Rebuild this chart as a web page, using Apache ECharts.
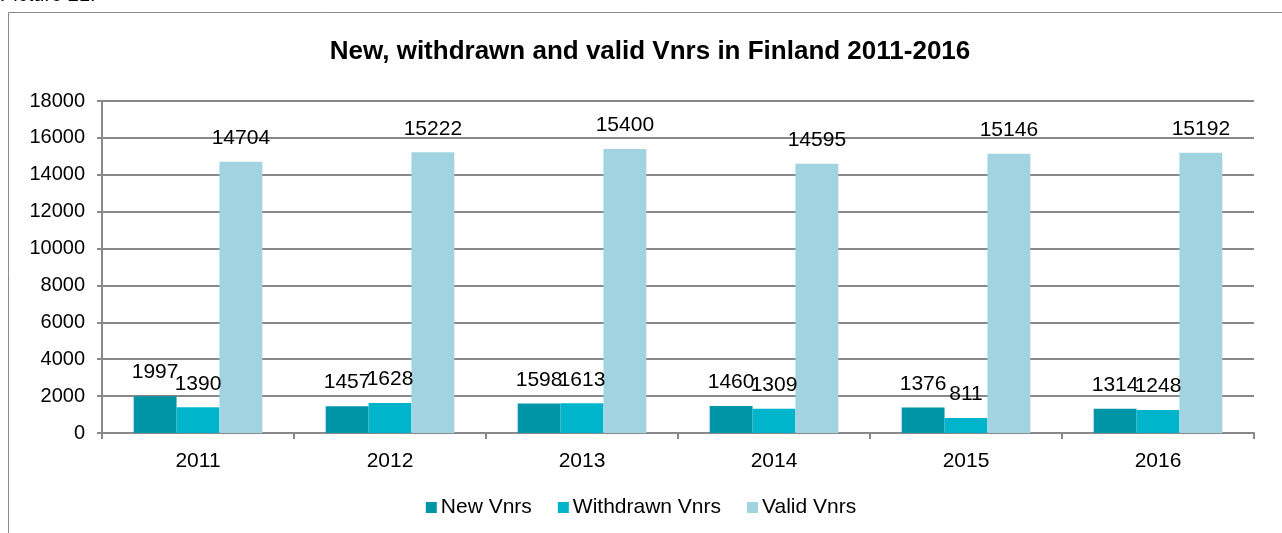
<!DOCTYPE html>
<html>
<head>
<meta charset="utf-8">
<script src="https://cdn.jsdelivr.net/npm/echarts@6/dist/echarts.min.js"></script>
<style>
  html, body { margin: 0; padding: 0; background: #fff; }
  #chart { width: 1282px; height: 533px; }
</style>
</head>
<body>
<div id="chart"></div>
<script>
  // data
  var years = ['2011', '2012', '2013', '2014', '2015', '2016'];
  var newVnrs = [1997, 1457, 1598, 1460, 1376, 1314];
  var withdrawnVnrs = [1390, 1628, 1613, 1309, 811, 1248];
  var validVnrs = [14704, 15222, 15400, 14595, 15146, 15192];

  var colors = ['#0094A7', '#00B4CB', '#A1D3E1'];
  var font = 'Liberation Sans, Arial, sans-serif';

  var myChart = echarts.init(document.getElementById('chart'));

  function labelStyle() {
    return {
      show: true,
      position: 'top',
      distance: 13,
      color: '#000',
      fontFamily: font,
      fontSize: 21
    };
  }

  var option = {
    animation: false,
    color: colors,
    title: {
      text: 'New, withdrawn and valid Vnrs in Finland 2011-2016',
      left: 645,
      top: 34,
      textAlign: 'center',
      textStyle: {
        fontFamily: 'Liberation Sans Narrow, Arial Narrow, Liberation Sans, sans-serif',
        fontWeight: 'bold',
        fontSize: 26,
        color: '#000'
      }
    },
    graphic: [
      {
        type: 'rect',
        shape: { x: 8.5, y: 12.5, width: 1300, height: 600 },
        style: { fill: 'none', stroke: '#888', lineWidth: 1 }
      },
      {
        type: 'text',
        left: 0,
        top: -15,
        style: { text: 'Picture 21:', fontFamily: font, fontSize: 20, fill: '#000' }
      }
    ],
    legend: {
      data: ['New Vnrs', 'Withdrawn Vnrs', 'Valid Vnrs'],
      bottom: 10,
      left: 'center',
      itemWidth: 11,
      itemHeight: 11,
      itemGap: 26,
      icon: 'rect',
      textStyle: { fontFamily: font, fontSize: 21, color: '#000', padding: [0, 0, 0, -1] }
    },
    grid: {
      left: 102,
      right: 28,
      top: 101,
      bottom: 100
    },
    xAxis: {
      type: 'category',
      data: years,
      axisLine: { lineStyle: { color: '#888', width: 2 } },
      axisTick: { show: true, length: 6, lineStyle: { color: '#888', width: 2 } },
      axisLabel: { color: '#000', fontFamily: font, fontSize: 21, margin: 18 }
    },
    yAxis: {
      type: 'value',
      min: 0,
      max: 18000,
      interval: 2000,
      axisLine: { show: true, lineStyle: { color: '#888', width: 2 } },
      axisTick: { show: true, length: 5, lineStyle: { color: '#888', width: 2 } },
      axisLabel: {
        color: '#000', fontFamily: font, fontSize: 20, margin: 17,
        formatter: function (v) { return String(v); }
      },
      splitLine: { lineStyle: { color: '#888', width: 2 } }
    },
    series: [
      {
        name: 'New Vnrs',
        type: 'bar',
        data: newVnrs,
        barGap: '0%',
        barCategoryGap: '33%',
        label: labelStyle()
      },
      {
        name: 'Withdrawn Vnrs',
        type: 'bar',
        data: withdrawnVnrs,
        label: labelStyle()
      },
      {
        name: 'Valid Vnrs',
        type: 'bar',
        data: validVnrs,
        label: labelStyle()
      }
    ]
  };

  myChart.setOption(option);
</script>
</body>
</html>
